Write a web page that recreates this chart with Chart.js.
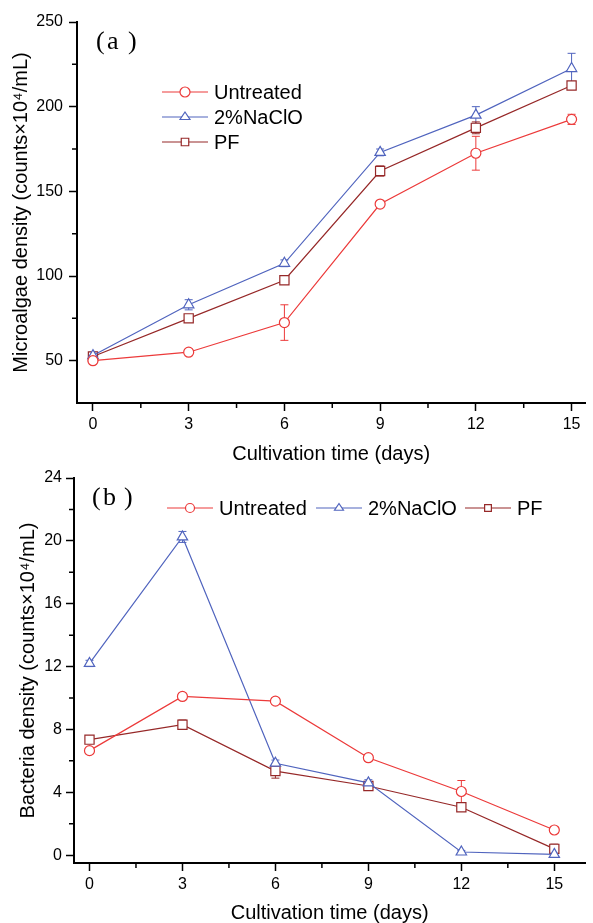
<!DOCTYPE html>
<html>
<head>
<meta charset="utf-8">
<script src="https://cdn.jsdelivr.net/npm/chart.js@4.4.0/dist/chart.umd.min.js"></script>
<style>
  body { margin: 0; background: #fff; }
  #wrap { position: relative; width: 593px; height: 923px; }
  #algae { position: absolute; left: 0; top: 0; }
  #bact { position: absolute; left: 0; top: 464px; }
</style>
</head>
<body>
<div id="wrap">
  <canvas id="algae" width="593" height="464"></canvas>
  <canvas id="bact" width="593" height="459"></canvas>
</div>
<script>
// données
const days = [0, 3, 6, 9, 12, 15];
const dayTicks = [0, 3, 6, 9, 12, 15];
const dayMinor = [1.5, 4.5, 7.5, 10.5, 13.5];

// (a) microalgues
const algaeUntreated = [50, 55, 72.5, 142.5, 172.5, 192.5];
const algaeNaClO = [53, 83, 107.5, 173, 195, 222.5];
const algaePF = [52.5, 75, 97.5, 162, 187.5, 212.5];
const algaeErrUntreated = [1, 1, 10.5, 2, 10, 3];
const algaeErrNaClO = [2, 3, 2, 2, 5, 9];
const algaeErrPF = [1.5, 2, 2, 3, 3.5, 1.5];
const algaeTicks = [50, 100, 150, 200, 250];
const algaeMinor = [75, 125, 175, 225];

// (b) bactéries
const bactUntreated = [6.65, 10.1, 9.8, 6.2, 4.05, 1.6];
const bactNaClO = [12.2, 20.25, 5.85, 4.6, 0.2, 0.05];
const bactPF = [7.35, 8.3, 5.35, 4.4, 3.05, 0.4];
const bactErrUntreated = [0.2, 0.2, 0.2, 0.2, 0.7, 0.2];
const bactErrNaClO = [0.2, 0.35, 0.2, 0.2, 0.1, 0.1];
const bactErrPF = [0.2, 0.3, 0.45, 0.2, 0.2, 0.3];
const bactTicks = [0, 4, 8, 12, 16, 20, 24];
const bactMinor = [2, 6, 10, 14, 18, 22];

const RED = '#ec3a3a';
const BLUE = '#5064be';
const DARKRED = '#962828';
const FONT = "'Liberation Sans', Arial, sans-serif";

function drawMarker(ctx, style, x, y, r) {
  ctx.beginPath();
  if (style === 'circle') {
    ctx.arc(x, y, r, 0, Math.PI * 2);
  } else if (style === 'triangle') {
    const h = r * 1.5;
    ctx.moveTo(x, y - r);
    ctx.lineTo(x + r * 0.866 * 1.15, y + h - r);
    ctx.lineTo(x - r * 0.866 * 1.15, y + h - r);
    ctx.closePath();
  } else {
    ctx.rect(x - r * 0.75, y - r * 0.75, r * 1.5, r * 1.5);
  }
  ctx.fill();
  ctx.stroke();
}

// barres d'erreur
const errorBars = {
  id: 'errorBars',
  beforeDatasetsDraw(chart) {
    const ctx = chart.ctx;
    const ys = chart.scales.y;
    chart.data.datasets.forEach((ds, i) => {
      const meta = chart.getDatasetMeta(i);
      ctx.save();
      ctx.strokeStyle = ds.borderColor;
      ctx.lineWidth = 1;
      meta.data.forEach((pt, j) => {
        const v = ds.data[j].y, e = ds.errors[j];
        const top = ys.getPixelForValue(v + e);
        const bot = ys.getPixelForValue(v - e);
        ctx.beginPath();
        ctx.moveTo(pt.x, top); ctx.lineTo(pt.x, bot);
        ctx.moveTo(pt.x - 4, top); ctx.lineTo(pt.x + 4, top);
        ctx.moveTo(pt.x - 4, bot); ctx.lineTo(pt.x + 4, bot);
        ctx.stroke();
      });
      ctx.restore();
    });
  }
};

// petites graduations
const minorTicks = {
  id: 'minorTicks',
  afterDraw(chart, args, opts) {
    const ctx = chart.ctx, a = chart.chartArea;
    const xs = chart.scales.x, ys = chart.scales.y;
    ctx.save();
    ctx.strokeStyle = '#000';
    ctx.lineWidth = 1.5;
    ctx.beginPath();
    opts.x.forEach(v => {
      const p = xs.getPixelForValue(v);
      ctx.moveTo(p, a.bottom); ctx.lineTo(p, a.bottom + opts.len);
    });
    opts.y.forEach(v => {
      const p = ys.getPixelForValue(v);
      ctx.moveTo(a.left, p); ctx.lineTo(a.left - opts.len, p);
    });
    ctx.stroke();
    ctx.restore();
  }
};

// légende ligne + symbole, et étiquette du panneau
const lineLegend = {
  id: 'lineLegend',
  afterDraw(chart, args, opts) {
    const ctx = chart.ctx;
    chart.data.datasets.forEach((ds, i) => {
      const [x, y] = opts.items[i];
      ctx.save();
      ctx.strokeStyle = ds.borderColor;
      ctx.lineWidth = 1.2;
      ctx.beginPath();
      ctx.moveTo(x, y); ctx.lineTo(x + opts.lineLen, y);
      ctx.stroke();
      ctx.fillStyle = '#fff';
      drawMarker(ctx, ds.pointStyle, x + opts.lineLen / 2, y, opts.radius);
      ctx.fillStyle = '#000';
      ctx.font = opts.fontSize + 'px ' + FONT;
      ctx.textBaseline = 'middle';
      ctx.fillText(ds.label, x + opts.lineLen + 6, y + 1);
      ctx.restore();
    });
    // (a) / (b)
    const p = opts.panel;
    ctx.save();
    ctx.fillStyle = '#000';
    ctx.font = "26px 'Liberation Serif', 'DejaVu Serif', serif";
    ctx.textBaseline = 'middle';
    ctx.fillText('(', p.x, p.y);
    ctx.fillText(p.letter, p.x + 11, p.y);
    ctx.fillText(')', p.x + 32, p.y);
    ctx.restore();
  }
};

function makeSet(label, values, errors, color, style, radius) {
  return {
    label: label,
    data: days.map((d, i) => ({ x: d, y: values[i] })),
    errors: errors,
    borderColor: color,
    borderWidth: 1.2,
    pointStyle: style,
    pointRadius: radius,
    pointBorderWidth: 1.2,
    pointBackgroundColor: '#fff',
    pointBorderColor: color,
    tension: 0
  };
}

function makeChart(id, cfg) {
  const ctx = document.getElementById(id).getContext('2d');
  return new Chart(ctx, {
    type: 'line',
    data: { datasets: cfg.datasets },
    plugins: [errorBars, minorTicks, lineLegend],
    options: {
      responsive: false,
      animation: false,
      layout: { padding: { top: cfg.padTop, right: cfg.padRight, left: 0, bottom: 0 } },
      plugins: {
        legend: { display: false },
        tooltip: { enabled: false },
        minorTicks: { x: dayMinor, y: cfg.yMinor, len: 5 },
        lineLegend: cfg.legend
      },
      scales: {
        x: {
          type: 'linear',
          min: -0.5,
          max: cfg.xMax,
          border: { display: true, color: '#000', width: 2 },
          grid: { drawOnChartArea: false, drawTicks: true, tickLength: 8, color: '#000', tickColor: '#000', tickWidth: 1.5 },
          ticks: { color: '#000', font: { size: 16, family: FONT }, padding: 4 },
          afterBuildTicks: s => { s.ticks = dayTicks.map(v => ({ value: v })); },
          afterFit: s => { s.height = cfg.xHeight; },
          title: { display: true, text: 'Cultivation time (days)', color: '#000', font: { size: 20, family: FONT, lineHeight: 1 }, padding: 0 }
        },
        y: {
          type: 'linear',
          min: cfg.yMin,
          max: cfg.yMax,
          border: { display: true, color: '#000', width: 2 },
          grid: { drawOnChartArea: false, drawTicks: true, tickLength: 8, color: '#000', tickColor: '#000', tickWidth: 1.5 },
          ticks: { color: '#000', font: { size: 16, family: FONT }, padding: cfg.yTickPad },
          afterBuildTicks: s => { s.ticks = cfg.yTicks.map(v => ({ value: v })); },
          afterFit: s => { s.width = cfg.yWidth; },
          title: { display: true, text: cfg.yTitle, color: '#000', font: { size: 20, family: FONT, lineHeight: 1 }, padding: { top: cfg.yTitlePad, bottom: 0 } }
        }
      }
    }
  });
}

makeChart('algae', {
  datasets: [
    makeSet('Untreated', algaeUntreated, algaeErrUntreated, RED, 'circle', 5),
    makeSet('2%NaClO', algaeNaClO, algaeErrNaClO, BLUE, 'triangle', 6),
    makeSet('PF', algaePF, algaeErrPF, DARKRED, 'rect', 6.5)
  ],
  padTop: 22, padRight: 0, xMax: 15.43, xHeight: 61,
  yMin: 25, yMax: 250, yTicks: algaeTicks, yMinor: algaeMinor,
  yWidth: 77, yTickPad: 6, yTitlePad: 11,
  yTitle: 'Microalgae density (counts×10⁴/mL)',
  legend: {
    items: [[162, 92], [162, 117], [162, 142]],
    lineLen: 46, radius: 5, fontSize: 20,
    panel: { x: 96, y: 42, letter: 'a' }
  }
});

makeChart('bact', {
  datasets: [
    makeSet('Untreated', bactUntreated, bactErrUntreated, RED, 'circle', 5),
    makeSet('2%NaClO', bactNaClO, bactErrNaClO, BLUE, 'triangle', 6),
    makeSet('PF', bactPF, bactErrPF, DARKRED, 'rect', 6.5)
  ],
  padTop: 14, padRight: 3, xMax: 16, xHeight: 60,
  yMin: -0.5, yMax: 24, yTicks: bactTicks, yMinor: bactMinor,
  yWidth: 74, yTickPad: 4, yTitlePad: 18,
  yTitle: 'Bacteria density (counts×10⁴/mL)',
  legend: {
    items: [[167, 44], [316, 44], [465, 44]],
    lineLen: 46, radius: 4.5, fontSize: 20,
    panel: { x: 92, y: 34, letter: 'b' }
  }
});
</script>
</body>
</html>
